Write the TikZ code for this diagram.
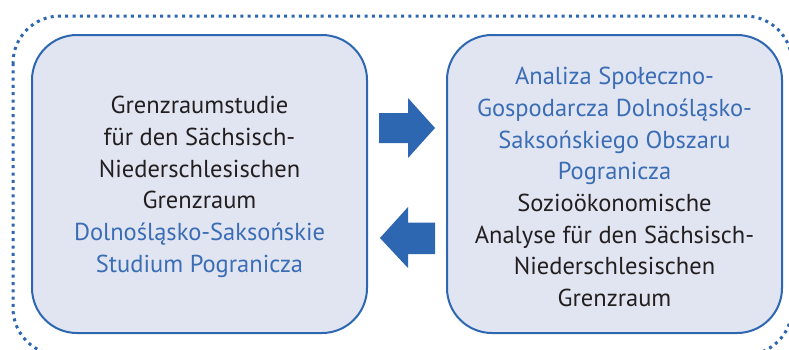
\documentclass[tikz,border=0pt]{standalone}
\usepackage{fontspec}
\setmainfont{PT Sans}
\definecolor{bblue}{HTML}{2E67B1}
\definecolor{tblue}{HTML}{3A6DB5}
\definecolor{bfill}{HTML}{E1E5F2}
\definecolor{tdark}{HTML}{231F20}
\begin{document}
\begin{tikzpicture}[x=1pt,y=-1pt,
  panel/.style={draw=bblue,line width=2pt,fill=bfill,rounded corners=45pt,minimum width=335pt,minimum height=298pt,inner sep=0pt},
  ptext/.style={align=center,text=tdark,font=\fontsize{24.5}{31.7}\selectfont},
  blockarrow/.style={fill=bblue,draw=none},
  frame/.style={draw=bblue,line width=3pt,dash pattern=on 3pt off 4.3pt,rounded corners=47pt}]
\useasboundingbox (0,0) rectangle (789,349);
\fill[white] (0,0) rectangle (789,349);
\draw[frame] (13,16) rectangle (792,355);
\node[panel] (L) at (199.5,184) {};
\node[panel] (R) at (614.5,184) {};
\node[ptext] (Lt) at (199.5,187) {Grenzraumstudie\\für den Sächsisch-\\Niederschlesischen\\Grenzraum\\\textcolor{tblue}{Dolnośląsko-Saksońskie}\\\textcolor{tblue}{Studium Pogranicza}};
\node[ptext] (Rt) at (614.5,187) {\textcolor{tblue}{Analiza Społeczno-}\\\textcolor{tblue}{Gospodarcza Dolnośląsko-}\\\textcolor{tblue}{Saksońskiego Obszaru}\\\textcolor{tblue}{Pogranicza}\\Sozioökonomische\\Analyse für den Sächsisch-\\Niederschlesischen\\Grenzraum};
\coordinate (a1) at (379,128);
\coordinate (a2) at (435,238);
\fill[blockarrow] (a1) ++(0,-15) -- ++(29,0) -- ++(0,-15) -- ++(27,30) -- ++(-27,30) -- ++(0,-15) -- ++(-29,0) -- cycle;
\fill[blockarrow] (a2) ++(0,-15.5) -- ++(-27,0) -- ++(0,-15.5) -- ++(-28,31) -- ++(28,30) -- ++(0,-14) -- ++(27,0) -- cycle;
\end{tikzpicture}
\end{document}
